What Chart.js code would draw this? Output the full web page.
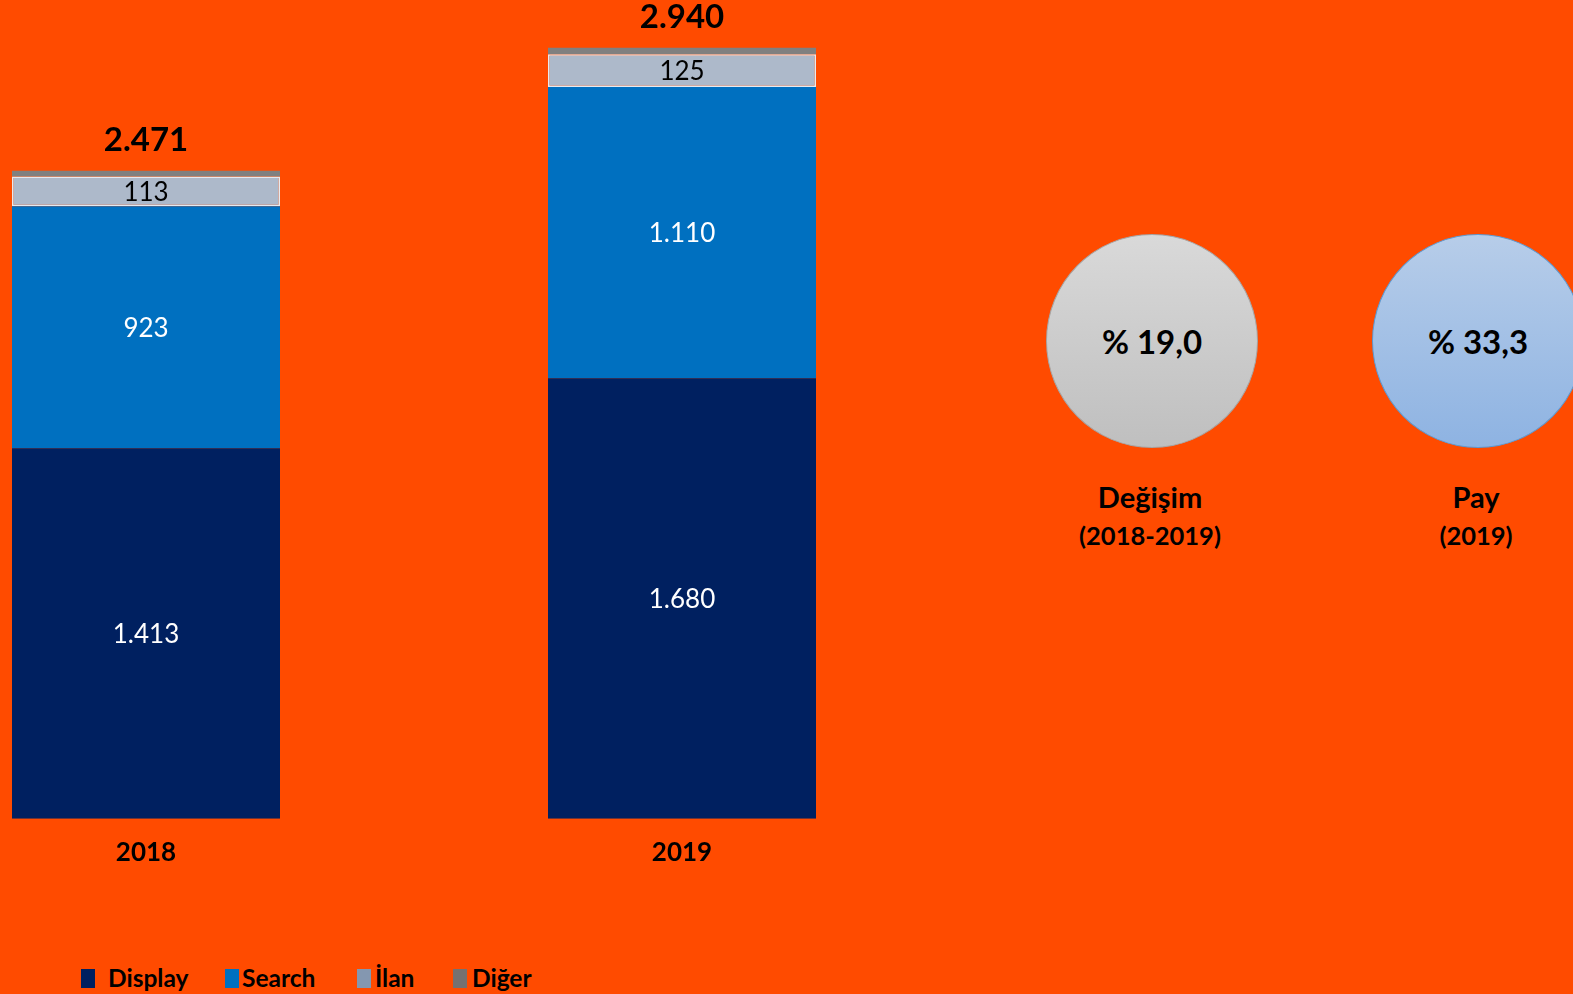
<!DOCTYPE html>
<html><head><meta charset="utf-8">
<script src="https://cdn.jsdelivr.net/npm/chart.js@4"></script>
<style>
html,body{margin:0;padding:0;width:1573px;height:994px;overflow:hidden;background:#FF4B00;font-family:Lato,"Open Sans",sans-serif;}
#wrap{position:absolute;left:-122px;top:0;width:1072px;height:900px;}
.circle{position:absolute;width:212px;height:214px;border-radius:50%;box-sizing:border-box;display:flex;align-items:center;justify-content:center;font-weight:bold;font-size:33px;color:#000;}
.c1{left:1046px;top:234px;background:linear-gradient(#D9D9D9,#BFBFBF);border:1.5px solid #A6A6A6;}
.c2{left:1372px;top:234px;background:linear-gradient(#B7CDE9,#8EB3E2);border:1.5px solid #5B9BD5;}
.cap{position:absolute;width:260px;text-align:center;font-weight:bold;color:#000;}
.legend{position:absolute;top:965px;left:0;height:26px;font-weight:bold;font-size:24.5px;color:#000;}
.box{position:absolute;top:4px;width:14px;height:19px;}
.lt{position:absolute;top:0;white-space:nowrap;line-height:26px;}
</style></head>
<body>
<div id="wrap"><canvas id="c"></canvas></div>
<div class="circle c1" id="circ1"></div>
<div class="circle c2" id="circ2"></div>
<div class="cap" style="left:1020px;top:479px;font-size:29px;">Değişim</div>
<div class="cap" style="left:1020px;top:520px;font-size:25.5px;">(2018-2019)</div>
<div class="cap" style="left:1346px;top:479px;font-size:29px;">Pay</div>
<div class="cap" style="left:1346px;top:520px;font-size:25.5px;">(2019)</div>
<div class="legend" id="legend"></div>
<script>
const categories = ['2018', '2019'];
const display = [1413, 1680];
const search = [923, 1110];
const ilan = [113, 125];
const diger = [22, 25];
const totals = [2471, 2940];
const seriesNames = ['Display', 'Search', 'İlan', 'Diğer'];
const changeText = '% 19,0';
const shareText = '% 33,3';

document.getElementById('circ1').textContent = changeText;
document.getElementById('circ2').textContent = shareText;

function fmt(v){ return String(v).replace(/\B(?=(\d{3})+(?!\d))/g, '.'); }

const barColors = ['#002060', '#0070C0', '#ADB9CA', '#808080'];
const legendColors = ['#002060', '#0070C0', '#8497B0', '#767171'];
const labelColors = ['#FFFFFF', '#FFFFFF', '#000000', null];

const datasets = [display, search, ilan, diger].map((d, i) => ({
  label: seriesNames[i],
  data: d,
  backgroundColor: barColors[i],
  borderColor: i === 2 ? '#E6EAF0' : barColors[i],
  borderWidth: i === 2 ? 1.5 : 0,
  borderSkipped: false,
  barPercentage: 1,
  categoryPercentage: 0.5
}));

const labelPlugin = {
  id: 'labels',
  afterDatasetsDraw(chart) {
    const ctx = chart.ctx;
    ctx.save();
    ctx.textAlign = 'center';
    ctx.textBaseline = 'middle';
    chart.data.datasets.forEach((ds, i) => {
      if (!labelColors[i]) return;
      const meta = chart.getDatasetMeta(i);
      meta.data.forEach((bar, j) => {
        ctx.fillStyle = labelColors[i];
        ctx.font = '26px Lato, "Open Sans", sans-serif';
        const y = (bar.y + bar.base) / 2;
        ctx.fillText(fmt(ds.data[j]), bar.x, y + 1);
      });
    });
    const lastMeta = chart.getDatasetMeta(chart.data.datasets.length - 1);
    lastMeta.data.forEach((bar, j) => {
      ctx.fillStyle = '#000';
      ctx.font = 'bold 33px Lato, "Open Sans", sans-serif';
      ctx.fillText(fmt(totals[j]), bar.x, bar.y - 30);
    });
    ctx.restore();
  }
};

const chart = new Chart(document.getElementById('c'), {
  type: 'bar',
  data: { labels: categories, datasets },
  options: {
    responsive: true,
    maintainAspectRatio: false,
    animation: false,
    layout: { padding: { top: 0, bottom: 14, left: 0, right: 0 } },
    plugins: { legend: { display: false }, tooltip: { enabled: false } },
    scales: {
      x: {
        stacked: true,
        grid: { display: false, drawTicks: false },
        border: { display: false },
        ticks: { color: '#000', padding: 18, font: { family: 'Lato, "Open Sans", sans-serif', size: 26, weight: 'bold' } }
      },
      y: { stacked: true, display: false, min: 0, max: 3122 }
    }
  },
  plugins: [labelPlugin]
});

const boxX = [81, 225, 357, 453];
const textX = [108, 242, 375, 472];
const legendEl = document.getElementById('legend');
chart.data.datasets.forEach((ds, i) => {
  const box = document.createElement('span');
  box.className = 'box';
  box.style.left = boxX[i] + 'px';
  box.style.background = legendColors[i];
  legendEl.appendChild(box);
  const t = document.createElement('span');
  t.className = 'lt';
  t.style.left = textX[i] + 'px';
  t.textContent = ds.label;
  legendEl.appendChild(t);
});
</script>
</body></html>
